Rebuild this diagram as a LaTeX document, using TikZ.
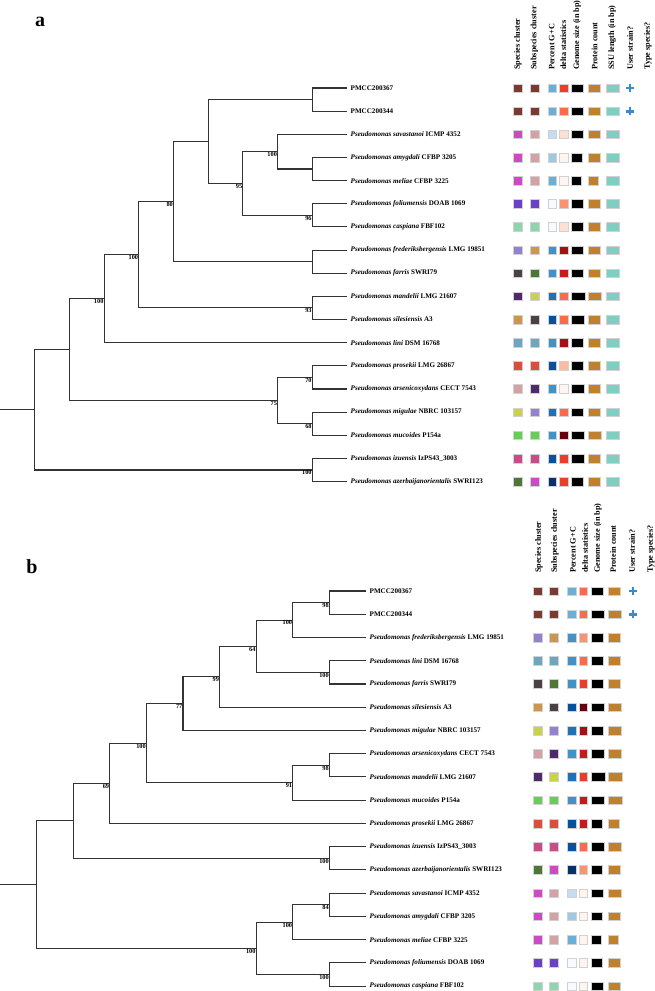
\documentclass[tikz,border=0pt]{standalone}
\usepackage{fontspec}
\setmainfont{Liberation Serif}
\usepackage{xcolor}
\usepackage{tikz}
\usetikzlibrary{positioning,calc}

% cluster colours
\definecolor{kBrick}{HTML}{7A3A2F}
\definecolor{kMagenta}{HTML}{CB4BC7}
\definecolor{kMauve}{HTML}{D2A2A5}
\definecolor{kViolet}{HTML}{6A41C6}
\definecolor{kMint}{HTML}{8ED4AD}
\definecolor{kLavender}{HTML}{9282CF}
\definecolor{kTan}{HTML}{CB9650}
\definecolor{kCharcoal}{HTML}{4B4042}
\definecolor{kMoss}{HTML}{4F7636}
\definecolor{kPlum}{HTML}{4E2A6D}
\definecolor{kLime}{HTML}{CAD24D}
\definecolor{kSteel}{HTML}{6EA6C0}
\definecolor{kCoral}{HTML}{D8503A}
\definecolor{kGrass}{HTML}{66CE56}
\definecolor{kRose}{HTML}{C84D86}
% G+C and delta scales
\definecolor{bl1}{HTML}{F7FBFF}
\definecolor{bl2}{HTML}{C6DBEF}
\definecolor{bl3}{HTML}{9ECAE1}
\definecolor{bl4}{HTML}{6BAED6}
\definecolor{bl5}{HTML}{4292C6}
\definecolor{bl6}{HTML}{2171B5}
\definecolor{bl7}{HTML}{08519C}
\definecolor{bl8}{HTML}{08306B}
\definecolor{rd1}{HTML}{FFF5F0}
\definecolor{rd2}{HTML}{FEE0D2}
\definecolor{rd3}{HTML}{FCBBA1}
\definecolor{rd4}{HTML}{FC9272}
\definecolor{rd5}{HTML}{FB6A4A}
\definecolor{rd6}{HTML}{EF3B2C}
\definecolor{rd7}{HTML}{CB181D}
\definecolor{rd8}{HTML}{A50F15}
\definecolor{rd9}{HTML}{67000D}
\definecolor{kOchre}{HTML}{BF812D}
\definecolor{kSsu}{HTML}{80CDC1}
\definecolor{kPlus}{HTML}{3A8AD0}

\newcommand{\pname}[2]{\textit{Pseudomonas #1} #2}
\newcommand{\cellbox}[4]{\path[cell, fill=#4] (#1,#2-4.3) rectangle ++(#3,8.6);}
\newcommand{\plusat}[2]{\draw[plusmark] (#1,#2) ++(-4.1,0) -- ++(8.2,0) (#1,#2) ++(0,-4.1) -- ++(0,8.2);}

\tikzset{
  branch/.style={draw=black!80, line width=1.1pt},
  leaf/.style={anchor=west, inner ysep=1pt, inner xsep=3.5pt, font=\fontsize{7.1}{8}\selectfont\bfseries},
  boot/.style={anchor=north east, inner sep=0.5pt, font=\fontsize{6.3}{7}\selectfont\bfseries},
  head/.style={rotate=90, anchor=west, inner sep=0pt, font=\fontsize{8.2}{9}\selectfont\bfseries},
  panel/.style={font=\fontsize{20}{22}\selectfont\bfseries},
  cell/.style={draw=black!18, line width=0.4pt},
  plusmark/.style={draw=kPlus, line width=2.7pt},
}

\begin{document}
\begin{tikzpicture}[x=1pt, y=-1pt]
\useasboundingbox (0,0) rectangle (655,991);
\fill[white] (0,0) rectangle (655,991);

%%% panel a
\node[panel] (pa) at (40,22) {a};

\foreach \txt/\xx [count=\i] in {Species cluster/517.8, Subspecies cluster/534.5, Percent G+C/551.8, delta statistics/563.3, Genome size (in bp)/577.2, Protein count/594.5, SSU length (in bp)/612.3, User strain?/630, Type species?/648}
  \node[head] (ha\i) at (\xx,70) {\txt};

\foreach \txt [count=\i from 0] in {PMCC200367, PMCC200344, \pname{savastanoi}{ICMP 4352}, \pname{amygdali}{CFBP 3205}, \pname{meliae}{CFBP 3225}, \pname{foliumensis}{DOAB 1069}, \pname{caspiana}{FBF102}, \pname{frederiksbergensis}{LMG 19851}, \pname{farris}{SWRI79}, \pname{mandelii}{LMG 21607}, \pname{silesiensis}{A3}, \pname{lini}{DSM 16768}, \pname{prosekii}{LMG 26867}, \pname{arsenicoxydans}{CECT 7543}, \pname{migulae}{NBRC 103157}, \pname{mucoides}{P154a}, \pname{izuensis}{IzPS43\_3003}, \pname{azerbaijanorientalis}{SWRI123}}
  \node[leaf] (la\i) at (347,88+23.15*\i) {\txt};

% inner nodes of tree a
\coordinate (aPM) at (312.3,99.58);
\coordinate (aAM) at (312.3,169.03);
\coordinate (aSav) at (277.6,151.66);
\coordinate (aFol) at (312.3,215.33);
\coordinate (a95) at (242.9,183.5);
\coordinate (aX) at (208.2,141.54);
\coordinate (aFre) at (312.3,261.63);
\coordinate (a80) at (173.5,201.58);
\coordinate (aMan) at (312.3,307.93);
\coordinate (aInner) at (138.8,254.75);
\coordinate (aLini) at (104.1,298.7);
\coordinate (aPro) at (312.3,377.38);
\coordinate (aMig) at (312.3,423.68);
\coordinate (a75) at (277.6,400.53);
\coordinate (aC) at (69.4,349.61);
\coordinate (aIzu) at (312.3,469.98);
\coordinate (aRoot) at (34.7,409.8);
\coordinate (aStub) at (0,409.8);

\foreach \p/\c in {aPM/la0.west, aPM/la1.west, aAM/la3.west, aAM/la4.west, aSav/la2.west, aSav/aAM, aFol/la5.west, aFol/la6.west, a95/aSav, a95/aFol, aX/aPM, aX/a95, aFre/la7.west, aFre/la8.west, a80/aX, a80/aFre, aMan/la9.west, aMan/la10.west, aInner/a80, aInner/aMan, aLini/aInner, aLini/la11.west, aPro/la12.west, aPro/la13.west, aMig/la14.west, aMig/la15.west, a75/aPro, a75/aMig, aC/aLini, aC/a75, aIzu/la16.west, aIzu/la17.west, aRoot/aC, aRoot/aIzu}
  \draw[branch] (\p) |- (\c);
\draw[branch] (aStub) -- (aRoot);

\foreach \n/\v in {aSav/100, aFol/96, a95/95, a80/80, aMan/93, aInner/100, aLini/100, aPro/70, aMig/68, a75/75, aIzu/100}
  \node[boot] (t\n) at (\n) {\v};

\foreach \ca/\cb/\cc/\cd/\wg/\wp [count=\i from 0] in {kBrick/kBrick/bl4/rd6/12.3/11.7, kBrick/kBrick/bl4/rd5/12.3/12.3, kMagenta/kMauve/bl2/rd2/12.3/11.7, kMagenta/kMauve/bl3/rd1/11.3/11.7, kMagenta/kMauve/bl4/rd1/9.7/10, kViolet/kViolet/bl1/rd4/11.7/11.7, kMint/kMint/bl1/rd2/12.3/11.7, kLavender/kTan/bl5/rd8/12.3/12.3, kCharcoal/kMoss/bl5/rd7/12.3/12.3, kPlum/kLime/bl6/rd5/14/13.3, kTan/kCharcoal/bl7/rd5/13/12.3, kSteel/kSteel/bl5/rd8/12.3/12.3, kCoral/kCoral/bl7/rd3/12.3/11.7, kMauve/kPlum/bl5/rd1/13/12.3, kLime/kLavender/bl6/rd5/12.3/12.3, kGrass/kGrass/bl5/rd9/13/13.3, kRose/kRose/bl7/rd6/13/12.3, kMoss/kMagenta/bl8/rd6/12.3/11.7}{
  \pgfmathsetmacro\yy{88+23.15*\i}
  \cellbox{513.3}{\yy}{9}{\ca}
  \cellbox{530}{\yy}{9}{\cb}
  \cellbox{547.7}{\yy}{8.3}{\cc}
  \cellbox{559}{\yy}{8.7}{\cd}
  \cellbox{571}{\yy}{\wg}{black}
  \cellbox{588.3}{\yy}{\wp}{kOchre}
  \cellbox{605.7}{\yy}{13.3}{kSsu}
}
\plusat{630}{88}
\plusat{630}{111.15}

%%% panel b
\node[panel] (pb) at (32,567) {b};

\foreach \txt/\xx [count=\i] in {Species cluster/539, Subspecies cluster/555, Percent G+C/573, delta statistics/585, Genome size (in bp)/598, Protein count/613, User strain?/632, Type species?/651}
  \node[head] (hb\i) at (\xx,573) {\txt};

\foreach \txt [count=\i from 0] in {PMCC200367, PMCC200344, \pname{frederiksbergensis}{LMG 19851}, \pname{lini}{DSM 16768}, \pname{farris}{SWRI79}, \pname{silesiensis}{A3}, \pname{migulae}{NBRC 103157}, \pname{arsenicoxydans}{CECT 7543}, \pname{mandelii}{LMG 21607}, \pname{mucoides}{P154a}, \pname{prosekii}{LMG 26867}, \pname{izuensis}{IzPS43\_3003}, \pname{azerbaijanorientalis}{SWRI123}, \pname{savastanoi}{ICMP 4352}, \pname{amygdali}{CFBP 3205}, \pname{meliae}{CFBP 3225}, \pname{foliumensis}{DOAB 1069}, \pname{caspiana}{FBF102}}
  \node[leaf] (lb\i) at (366,591+23.24*\i) {\txt};

% inner nodes of tree b
\coordinate (bPM) at (329.4,602.62);
\coordinate (bPF) at (292.8,620.05);
\coordinate (bLF) at (329.4,672.34);
\coordinate (b64) at (256.2,646.2);
\coordinate (b99) at (219.6,676.7);
\coordinate (b77) at (183,703.57);
\coordinate (bAM) at (329.4,765.3);
\coordinate (b91) at (292.8,782.73);
\coordinate (bInner) at (146.4,743.15);
\coordinate (b69) at (109.8,783.28);
\coordinate (bIz) at (329.4,858.26);
\coordinate (bC) at (73.2,820.77);
\coordinate (bSA) at (329.4,904.74);
\coordinate (bSAM) at (292.8,922.17);
\coordinate (bFC) at (329.4,974.46);
\coordinate (bS) at (256.2,948.32);
\coordinate (bRoot) at (36.6,884.54);
\coordinate (bStub) at (0,884.54);

\foreach \p/\c in {bPM/lb0.west, bPM/lb1.west, bPF/bPM, bPF/lb2.west, bLF/lb3.west, bLF/lb4.west, b64/bPF, b64/bLF, b99/b64, b99/lb5.west, b77/b99, b77/lb6.west, bAM/lb7.west, bAM/lb8.west, b91/bAM, b91/lb9.west, bInner/b77, bInner/b91, b69/bInner, b69/lb10.west, bIz/lb11.west, bIz/lb12.west, bC/b69, bC/bIz, bSA/lb13.west, bSA/lb14.west, bSAM/bSA, bSAM/lb15.west, bFC/lb16.west, bFC/lb17.west, bS/bSAM, bS/bFC, bRoot/bC, bRoot/bS}
  \draw[branch] (\p) |- (\c);
\draw[branch] (bStub) -- (bRoot);

\foreach \n/\v in {bPM/98, bPF/100, bLF/100, b64/64, b99/99, b77/77, bAM/98, b91/91, bInner/100, b69/69, bIz/100, bSA/84, bSAM/100, bFC/100, bS/100}
  \node[boot] (t\n) at (\n) {\v};

\foreach \ca/\cb/\cc/\cd/\wg/\wp [count=\i from 0] in {kBrick/kBrick/bl4/rd5/12.7/12.3, kBrick/kBrick/bl4/rd5/13.3/13.3, kLavender/kTan/bl5/rd4/12.7/12.3, kSteel/kSteel/bl5/rd5/12.7/12.3, kCharcoal/kMoss/bl5/rd6/12.7/12.3, kTan/kCharcoal/bl7/rd9/13.3/13, kLime/kLavender/bl6/rd8/12.7/13, kMauve/kPlum/bl5/rd7/13.3/13, kPlum/kLime/bl6/rd6/14.3/14, kGrass/kGrass/bl5/rd7/13.3/14.7, kCoral/kCoral/bl7/rd7/11.7/11, kRose/kRose/bl7/rd5/13.3/13, kMoss/kMagenta/bl8/rd4/11.7/12.3, kMagenta/kMauve/bl2/rd1/12.7/13, kMagenta/kMauve/bl3/rd1/11.7/12.3, kMagenta/kMauve/bl4/rd1/10/10, kViolet/kViolet/bl1/rd1/11.7/12.3, kMint/kMint/bl1/rd1/12.7/12.3}{
  \pgfmathsetmacro\yy{591+23.24*\i}
  \cellbox{533.3}{\yy}{8.4}{\ca}
  \cellbox{549.3}{\yy}{9}{\cb}
  \cellbox{567.3}{\yy}{8.4}{\cc}
  \cellbox{579}{\yy}{8.3}{\cd}
  \cellbox{590.7}{\yy}{\wg}{black}
  \cellbox{607.7}{\yy}{\wp}{kOchre}
}
\plusat{633}{591}
\plusat{633}{614.24}
\end{tikzpicture}
\end{document}
